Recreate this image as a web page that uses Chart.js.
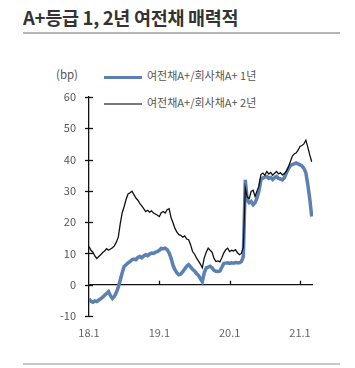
<!DOCTYPE html>
<html><head><meta charset="utf-8">
<script src="https://cdn.jsdelivr.net/npm/chart.js@4.4.0/dist/chart.umd.min.js"></script>
<style>
html,body{margin:0;padding:0;background:#fff;}
#wrap{position:relative;width:355px;height:368px;overflow:hidden;font-family:"Noto Sans CJK KR","Noto Sans",sans-serif;}
#title{position:absolute;left:23px;top:4px;font-size:18.5px;font-weight:bold;color:#333;letter-spacing:-0.3px;white-space:nowrap;}
#tline{position:absolute;left:23px;top:32px;width:317px;height:2px;background:#b5b5b5;}
#bline{position:absolute;left:23px;top:363px;width:317px;height:2px;background:#c8c8c8;}
#unit{position:absolute;left:56px;top:66px;font-size:11.5px;color:#555;}
.lg{position:absolute;left:104px;font-size:11px;color:#555;white-space:nowrap;}
.lg span{display:inline-block;width:38px;vertical-align:middle;margin-right:5px;}
canvas{position:absolute;left:0;top:0;}
</style></head>
<body><div id="wrap">
<div id="title">A+등급 1, 2년 여전채 매력적</div>
<div id="tline"></div>
<div id="unit">(bp)</div>
<div class="lg" id="lg1" style="top:67px"><span style="height:3px;background:#5b80b2"></span>여전채A+/회사채A+ 1년</div>
<div class="lg" id="lg2" style="top:94px"><span style="height:2px;background:#777"></span>여전채A+/회사채A+ 2년</div>
<canvas id="c" width="355" height="368"></canvas>
<div id="bline"></div>
</div>
<script>
// sample dates in months since Jan 2018 (every 1/3 month)
const months = [];
for (let i = 0; i <= 114; i++) months.push(i / 3);

const yr1 = [-4.5,-5.3,-5.6,-5.2,-5.4,-4.9,-4.5,-4.0,-3.4,-2.8,
 -2.2,-3.5,-4.4,-3.7,-2.5,-0.8,1.5,3.8,5.8,6.4,
 7.0,7.4,8.0,8.2,8.0,8.7,9.0,8.6,9.2,9.6,
 9.3,9.8,10.1,10.0,10.4,10.6,11.0,11.6,11.5,11.7,
 11.2,10.2,8.5,6.2,4.8,3.8,3.2,3.4,4.2,5.0,
 5.9,6.4,5.7,4.9,4.4,3.6,3.0,2.0,1.0,3.8,
 5.4,5.6,5.9,5.4,4.6,4.3,4.2,4.4,5.6,6.8,
 6.9,7.0,6.8,7.0,6.9,7.1,7.0,7.0,7.4,9.0,
 33.5,27.0,26.2,26.6,25.6,26.2,27.7,30.0,33.6,34.1,
 34.4,34.6,34.0,34.3,33.6,34.2,34.6,34.0,33.8,33.5,
 34.2,35.7,37.0,38.0,38.4,38.6,38.9,38.6,38.3,38.0,
 37.2,35.8,32.0,27.5,21.8];

const yr2 = [12.2,11.0,10.4,9.2,8.4,9.0,9.6,10.3,10.8,11.5,
 11.0,11.4,11.8,12.4,13.6,15.2,19.5,23.0,25.0,27.3,
 29.0,29.4,29.9,28.8,27.7,27.0,26.0,25.2,24.3,23.4,
 23.8,23.2,23.6,22.9,22.6,22.2,21.8,23.0,23.4,22.9,
 24.0,24.3,21.5,19.8,18.0,16.8,16.0,15.8,15.2,15.6,
 14.6,14.4,12.8,10.6,9.8,8.6,7.6,6.6,5.4,8.6,
 10.4,11.7,11.0,10.4,8.4,7.4,7.6,7.3,8.6,10.2,
 11.2,11.7,10.6,11.0,10.8,11.2,10.2,9.6,10.0,12.0,
 30.9,28.0,27.5,29.8,30.2,28.2,30.0,31.5,35.2,35.7,
 35.0,36.2,35.4,35.9,35.0,35.6,36.2,35.4,35.8,35.1,
 35.5,36.2,37.5,39.2,41.0,41.8,42.1,43.0,44.2,44.5,
 45.0,46.2,44.0,41.5,39.3];

const xTickValues = [0, 12, 24, 36];
const xTickLabels = ['18.1', '19.1', '20.1', '21.1'];
const yTicks = [-10, 0, 10, 20, 30, 40, 50, 60];

const pts = arr => arr.map((v, i) => ({x: months[i], y: v}));

const axisMarks = {
  id: 'axisMarks',
  afterDraw(chart) {
    const ctx = chart.ctx, xs = chart.scales.x, ys = chart.scales.y;
    const x0 = xs.getPixelForValue(0), yz = ys.getPixelForValue(0);
    ctx.save();
    ctx.strokeStyle = '#111'; ctx.lineWidth = 1.3;
    yTicks.forEach(v => {
      const p = Math.round(ys.getPixelForValue(v)) + 0.5;
      ctx.beginPath(); ctx.moveTo(x0 - 4, p); ctx.lineTo(x0 + 4, p); ctx.stroke();
    });
    xTickValues.slice(1).forEach(v => {
      const p = Math.round(xs.getPixelForValue(v)) + 0.5;
      ctx.beginPath(); ctx.moveTo(p, yz); ctx.lineTo(p, yz - 4); ctx.stroke();
    });
    ctx.restore();
  }
};

new Chart(document.getElementById('c'), {
  type: 'line',
  data: {
    datasets: [
      {label: '여전채A+/회사채A+ 2년', data: pts(yr2), borderColor: '#111', borderWidth: 1.3, pointRadius: 0, tension: 0},
      {label: '여전채A+/회사채A+ 1년', data: pts(yr1), borderColor: '#5b80b2', borderWidth: 3.5, pointRadius: 0, tension: 0}
    ]
  },
  options: {
    responsive: false, animation: false,
    layout: {padding: {top: 97, right: 42, left: 0, bottom: 0}},
    plugins: {legend: {display: false}, tooltip: {enabled: false}},
    scales: {
      x: {
        type: 'linear', min: 0, max: 38.22,
        afterFit: s => { s.height = 52; },
        afterBuildTicks: s => { s.ticks = xTickValues.map(v => ({value: v})); },
        ticks: {callback: (v) => xTickLabels[xTickValues.indexOf(v)], color: '#666', padding: 10,
          font: {family: '"Noto Sans CJK KR", sans-serif', size: 11}, maxRotation: 0, autoSkip: false},
        grid: {display: false, drawTicks: false},
        border: {display: false}
      },
      y: {
        min: -10, max: 60,
        afterFit: s => { s.width = 89; },
        afterBuildTicks: s => { s.ticks = yTicks.map(v => ({value: v})); },
        ticks: {color: '#555', padding: 13, font: {family: '"Noto Sans CJK KR", sans-serif', size: 11}},
        grid: {drawTicks: false, color: c => (c.tick && c.tick.value === 0) ? '#111' : 'rgba(0,0,0,0)', lineWidth: 1.3},
        border: {display: true, color: '#111', width: 1.3}
      }
    }
  },
  plugins: [axisMarks]
});
</script>
</body></html>
